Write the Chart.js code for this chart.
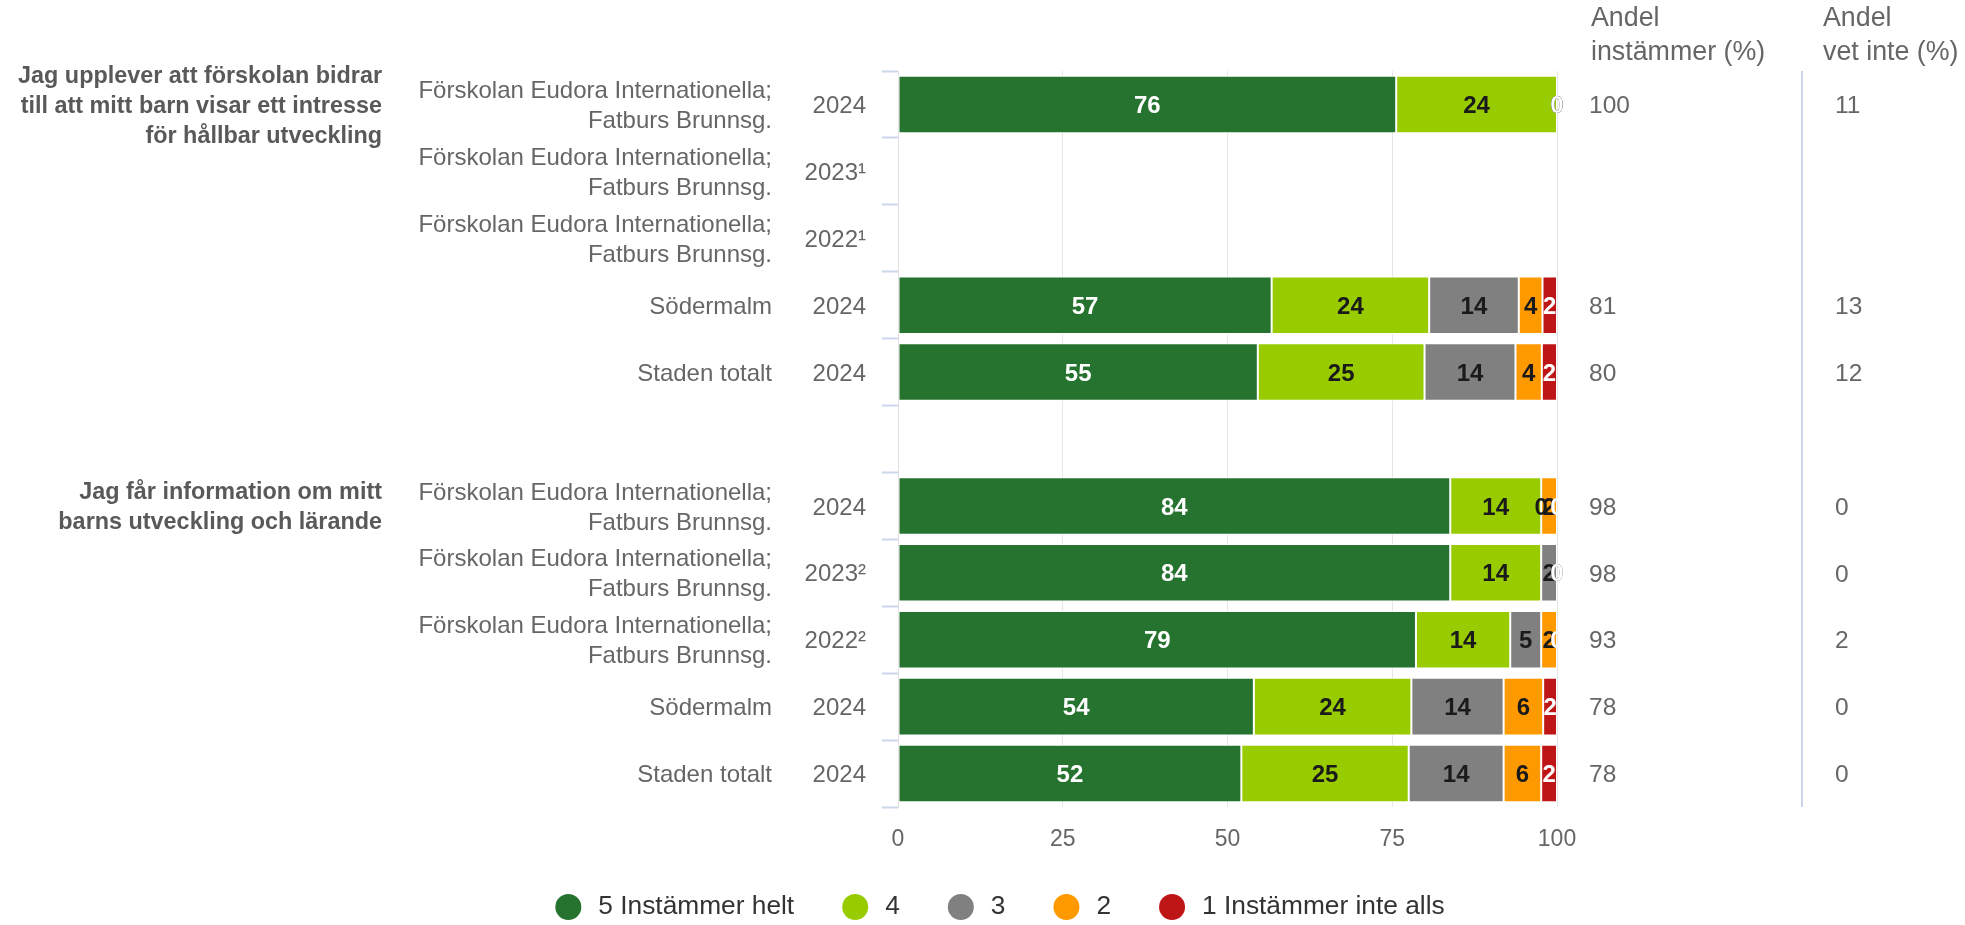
<!DOCTYPE html>
<html lang="sv">
<head>
<meta charset="utf-8">
<title>Enkätresultat</title>
<style>
  html, body { margin: 0; padding: 0; background: #ffffff; }
</style>
</head>
<body>
<canvas id="surveyChart" width="1965" height="925"></canvas>
<script src="https://cdn.jsdelivr.net/npm/chart.js"></script>
<script>

   // --- data ---
   const questions = [
      ['Jag upplever att förskolan bidrar', 'till att mitt barn visar ett intresse', 'för hållbar utveckling'],
      ['Jag får information om mitt', 'barns utveckling och lärande']
   ];
   const questionRows = [0, 6];

   const units = [
      ['Förskolan Eudora Internationella;', 'Fatburs Brunnsg.'],
      ['Förskolan Eudora Internationella;', 'Fatburs Brunnsg.'],
      ['Förskolan Eudora Internationella;', 'Fatburs Brunnsg.'],
      ['Södermalm'],
      ['Staden totalt'],
      [],
      ['Förskolan Eudora Internationella;', 'Fatburs Brunnsg.'],
      ['Förskolan Eudora Internationella;', 'Fatburs Brunnsg.'],
      ['Förskolan Eudora Internationella;', 'Fatburs Brunnsg.'],
      ['Södermalm'],
      ['Staden totalt']
   ];
   const years = ['2024', '2023¹', '2022¹', '2024', '2024', '', '2024', '2023²', '2022²', '2024', '2024'];

   const seriesNames = ['5 Instämmer helt', '4', '3', '2', '1 Instämmer inte alls'];
   const answer5 = [75.6, null, null, 56.7, 54.6, null, 83.8, 83.8, 78.6, 54.0, 52.1];
   const answer4 = [24.4, null, null, 23.9, 25.3, null, 13.8, 13.8, 14.3, 23.9, 25.4];
   const answer3 = [0, null, null, 13.6, 13.8, null, 0, 2.4, 4.7, 14.0, 14.4];
   const answer2 = [0, null, null, 3.6, 4.0, null, 2.4, 0, 2.4, 6.0, 5.7];
   const answer1 = [0, null, null, 2.2, 2.3, null, 0, 0, 0, 2.1, 2.4];

   const agreeHeader = ['Andel', 'instämmer (%)'];
   const agreeShare = [100, null, null, 81, 80, null, 98, 98, 93, 78, 78];
   const dontKnowHeader = ['Andel', 'vet inte (%)'];
   const dontKnowShare = [11, null, null, 13, 12, null, 0, 0, 2, 0, 0];

   const xTicks = [0, 25, 50, 75, 100];

   // --- styling ---
   const FONT = "'Liberation Sans', Arial, sans-serif";
   const seriesColors = ['#25732f', '#99cc00', '#808080', '#ff9900', '#be1616'];
   const valueColors = ['#ffffff', '#1a1a1a', '#1a1a1a', '#1a1a1a', '#ffffff'];
   const allSeries = [answer5, answer4, answer3, answer2, answer1];

   Chart.defaults.font.family = FONT;

   // numbers inside the bars
   const barValues = {
      id: 'barValues',
      afterDatasetsDraw(chart) {
         const ctx = chart.ctx;
         ctx.save();
         ctx.font = 'bold 24px ' + FONT;
         ctx.textAlign = 'center';
         ctx.textBaseline = 'middle';
         chart.data.datasets.forEach((ds, di) => {
            const meta = chart.getDatasetMeta(di);
            meta.data.forEach((bar, i) => {
               const v = ds.data[i];
               if (v === null) return;
               const p = bar.getProps(['x', 'y', 'base'], true);
               ctx.fillStyle = valueColors[di];
               ctx.fillText(String(Math.round(v)), (p.x + p.base) / 2, p.y + 2);
            });
         });
         ctx.restore();
      }
   };

   // three label columns on the left, two share columns on the right, legend
   const sideText = {
      id: 'sideText',
      afterDraw(chart) {
         const ctx = chart.ctx;
         const y = chart.scales.y;
         const area = chart.chartArea;
         ctx.save();
         ctx.textBaseline = 'middle';

         // unit name + year
         ctx.fillStyle = '#666666';
         ctx.font = '24px ' + FONT;
         ctx.textAlign = 'right';
         units.forEach((lines, i) => {
            const cy = y.getPixelForValue(i) + 2;
            lines.forEach((t, k) => {
               ctx.fillText(t, 772, cy + (k - (lines.length - 1) / 2) * 30);
            });
            if (years[i]) ctx.fillText(years[i], 866, cy);
         });

         // question text
         ctx.fillStyle = '#595959';
         ctx.font = 'bold 23.4px ' + FONT;
         questions.forEach((lines, q) => {
            const cy = y.getPixelForValue(questionRows[q]) + 2;
            lines.forEach((t, k) => {
               ctx.fillText(t, 382, cy + (k - (lines.length - 1) / 2) * 30);
            });
         });

         // share columns
         ctx.textAlign = 'left';
         ctx.fillStyle = '#666666';
         ctx.font = '26.8px ' + FONT;
         agreeHeader.forEach((t, k) => ctx.fillText(t, 1591, 19 + k * 34));
         dontKnowHeader.forEach((t, k) => ctx.fillText(t, 1823, 19 + k * 34));
         ctx.font = '24.5px ' + FONT;
         agreeShare.forEach((v, i) => {
            if (v !== null) ctx.fillText(String(v), 1589, y.getPixelForValue(i) + 2);
         });
         dontKnowShare.forEach((v, i) => {
            if (v !== null) ctx.fillText(String(v), 1835, y.getPixelForValue(i) + 2);
         });

         // separator line before the last column
         ctx.strokeStyle = '#ccd6eb';
         ctx.lineWidth = 2;
         ctx.beginPath();
         ctx.moveTo(1802, area.top);
         ctx.lineTo(1802, area.bottom);
         ctx.stroke();

         // legend
         ctx.font = '26.3px ' + FONT;
         const widths = seriesNames.map(n => ctx.measureText(n).width);
         const total = widths.reduce((a, w) => a + 43 + w, 0) + 48 * (seriesNames.length - 1);
         let lx = 1000 - total / 2;
         const ly = 907;
         seriesNames.forEach((n, i) => {
            ctx.fillStyle = seriesColors[i];
            ctx.beginPath();
            ctx.arc(lx + 13, ly, 13, 0, Math.PI * 2);
            ctx.fill();
            ctx.fillStyle = '#333333';
            ctx.fillText(n, lx + 43, ly);
            lx += 43 + widths[i] + 48;
         });
         ctx.restore();
      }
   };

   const surveyChart = new Chart(document.getElementById('surveyChart'), {
      type: 'bar',
      data: {
         labels: years,
         datasets: allSeries.map((data, i) => ({
            label: seriesNames[i],
            data: data,
            backgroundColor: seriesColors[i],
            borderColor: '#ffffff',
            borderWidth: 1,
            borderSkipped: false,
            categoryPercentage: 0.86,
            barPercentage: 1
         }))
      },
      options: {
         indexAxis: 'y',
         responsive: false,
         animation: false,
         layout: { padding: { left: 0, right: 408, top: 71, bottom: 58 } },
         plugins: {
            legend: { display: false },
            tooltip: { enabled: false }
         },
         scales: {
            x: {
               stacked: true,
               min: xTicks[0],
               max: xTicks[xTicks.length - 1],
               afterBuildTicks: s => { s.ticks = xTicks.map(v => ({ value: v })); },
               afterFit: s => { s.height = 60; },
               grid: { color: '#e6e6e6', lineWidth: 1, drawTicks: false },
               border: { display: false },
               ticks: { padding: 19, color: '#666666', font: { size: 23 } }
            },
            y: {
               stacked: true,
               offset: true,
               afterFit: s => { s.width = 898; },
               grid: {
                  offset: true,
                  drawOnChartArea: false,
                  drawTicks: true,
                  tickLength: 16,
                  tickColor: '#ccd6eb',
                  tickWidth: 2
               },
               border: { display: true, color: '#e0e0e0', width: 1 },
               ticks: { display: false }
            }
         }
      },
      plugins: [barValues, sideText]
   });

</script>
</body>
</html>
